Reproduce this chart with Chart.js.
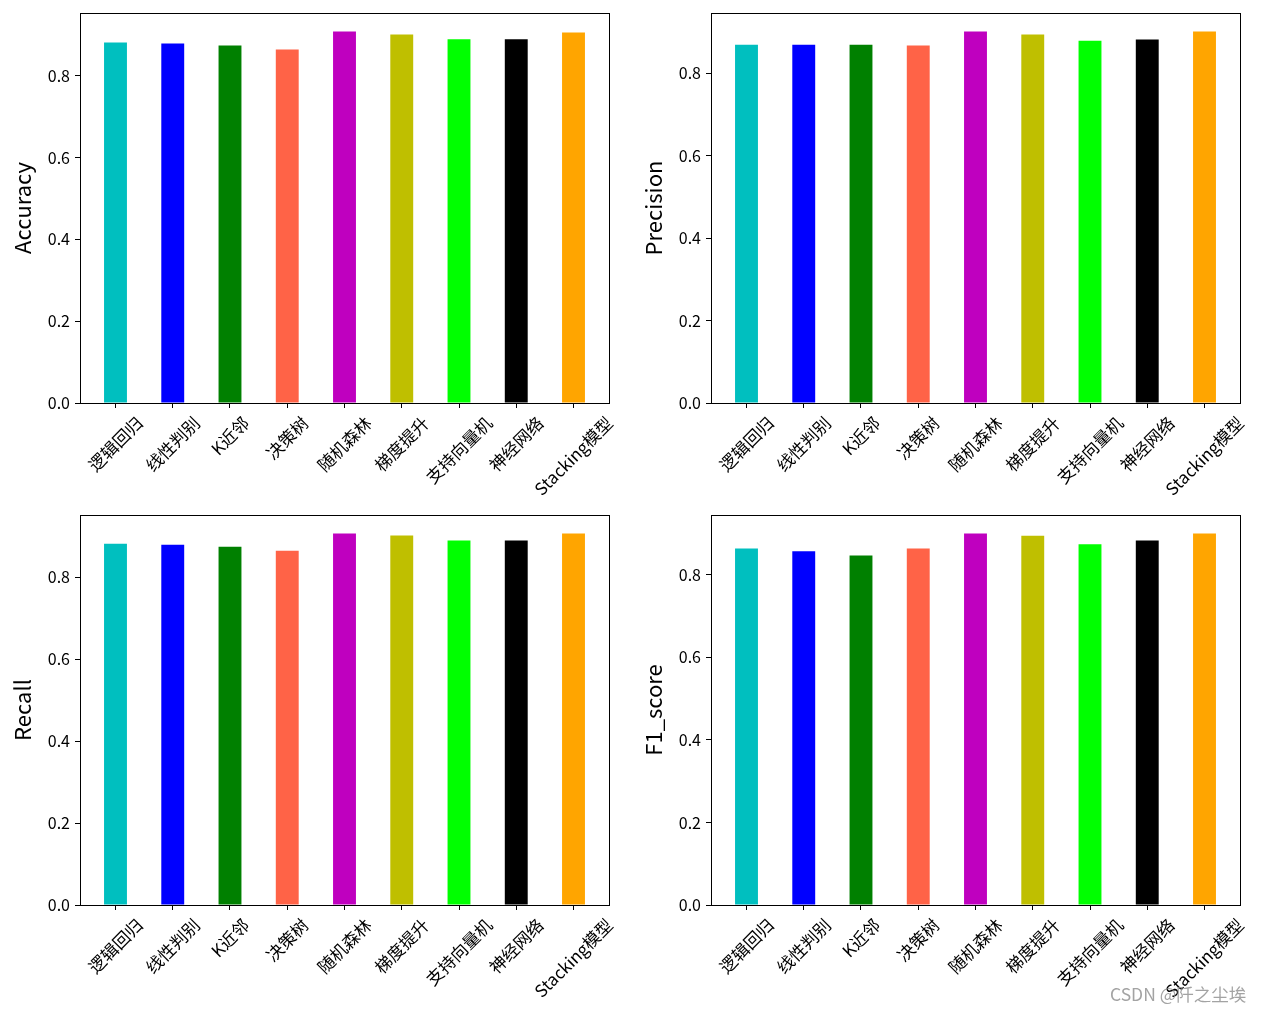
<!DOCTYPE html>
<html>
<head>
<meta charset="utf-8">
<script src="https://cdn.jsdelivr.net/npm/chart.js@4.4.1/dist/chart.umd.min.js"></script>
<style>
	body { margin: 0; background: #fff; }
	#page { position: relative; width: 1262px; height: 1011px; overflow: hidden; }
	.panel { position: absolute; width: 620px; height: 500px; }
	#mark { position: absolute; left: 1110px; top: 981px; font: 17.5px "Noto Sans CJK SC", sans-serif; color: rgba(140, 140, 140, 0.8); }
</style>
</head>
<body>
<div id="page">
	<canvas class="panel" id="acc" width="620" height="500" style="left:0;top:0"></canvas>
	<canvas class="panel" id="pre" width="620" height="500" style="left:631px;top:0"></canvas>
	<canvas class="panel" id="rec" width="620" height="500" style="left:0;top:502px"></canvas>
	<canvas class="panel" id="f1" width="620" height="500" style="left:631px;top:502px"></canvas>
	<div id="mark">CSDN @阡之尘埃</div>
</div>
<script>
const categories = ['逻辑回归', '线性判别', 'K近邻', '决策树', '随机森林', '梯度提升', '支持向量机', '神经网络', 'Stacking模型'];
const barColors = ['#00bfbf', '#0000ff', '#008000', '#ff6347', '#bf00bf', '#bfbf00', '#00ff00', '#000000', '#ffa500'];

const accuracy = [0.881, 0.879, 0.874, 0.864, 0.908, 0.901, 0.889, 0.889, 0.906];
const precision = [0.869, 0.869, 0.869, 0.867, 0.901, 0.894, 0.879, 0.882, 0.901];
const recall = [0.881, 0.879, 0.874, 0.864, 0.906, 0.901, 0.889, 0.889, 0.906];
const f1Score = [0.864, 0.857, 0.847, 0.864, 0.900, 0.895, 0.874, 0.883, 0.900];

const yTicks = [0, 0.2, 0.4, 0.6, 0.8];

const FONT = '"Noto Sans CJK SC", sans-serif';

// top and right spines, matplotlib style box
const framePlugin = {
	id: 'frame',
	afterDraw (chart) {
		const { ctx, chartArea: a } = chart;
		ctx.save();
		ctx.strokeStyle = '#000';
		ctx.lineWidth = 1;
		ctx.strokeRect(Math.round(a.left) + 0.5, Math.round(a.top) + 0.5, Math.round(a.right - a.left), Math.round(a.bottom - a.top));
		ctx.restore();
	}
};

// rotated labels centred under each tick (like rotation=45 in pyplot)
const xLabelPlugin = {
	id: 'xlabels',
	afterDraw (chart) {
		const ctx = chart.ctx;
		const xs = chart.scales.x;
		const size = 17;
		ctx.save();
		ctx.font = `${size}px ${FONT}`;
		ctx.fillStyle = '#000';
		ctx.textAlign = 'center';
		ctx.textBaseline = 'middle';
		categories.forEach((lab, i) => {
			const px = xs.getPixelForValue(i);
			const w = ctx.measureText(lab).width;
			const box = (w + size) * Math.SQRT1_2;
			const cy = xs.top + 11 + box / 2;
			ctx.save();
			ctx.translate(px, cy);
			ctx.rotate(-Math.PI / 4);
			ctx.fillText(lab, 0, 0);
			ctx.restore();
		});
		ctx.restore();
	}
};

function makeChart (id, title, values) {
	const ctx = document.getElementById(id);
	return new Chart(ctx, {
		type: 'bar',
		data: {
			datasets: [{
				data: values.map((v, i) => ({ x: i, y: v })),
				backgroundColor: barColors,
				borderWidth: 0,
				categoryPercentage: 1,
				barPercentage: 0.4
			}]
		},
		options: {
			responsive: false,
			animation: false,
			layout: { padding: { left: 0, top: 13, right: 11, bottom: 0 } },
			plugins: { legend: { display: false }, tooltip: { enabled: false } },
			scales: {
				x: {
					type: 'linear',
					offset: false,
					min: -0.62,
					max: categories.length - 1 + 0.62,
					afterBuildTicks: (scale) => { scale.ticks = categories.map((c, i) => ({ value: i })); },
					afterFit: (scale) => { scale.height = 97; scale.paddingLeft = 0; scale.paddingRight = 0; },
					ticks: { display: false },
					grid: { offset: false, drawOnChartArea: false, drawTicks: true, tickLength: 5, tickColor: '#000', tickWidth: 1 },
					border: { display: true, color: '#000', width: 1 }
				},
				y: {
					min: 0,
					max: Math.max(...values) * 1.05,
					afterBuildTicks: (scale) => { scale.ticks = yTicks.map((v) => ({ value: v })); },
					afterFit: (scale) => { scale.width = 80; scale.paddingTop = 0; scale.paddingBottom = 0; },
					ticks: {
						color: '#000',
						padding: 5,
						font: { family: FONT, size: 16 },
						callback: (v) => v.toFixed(1)
					},
					grid: { drawOnChartArea: false, drawTicks: true, tickLength: 5, tickColor: '#000', tickWidth: 1 },
					border: { display: true, color: '#000', width: 1 },
					title: {
						display: true,
						text: title,
						color: '#000',
						font: { family: FONT, size: 22 },
						padding: { top: 9, bottom: 0 }
					}
				}
			}
		},
		plugins: [framePlugin, xLabelPlugin]
	});
}

makeChart('acc', 'Accuracy', accuracy);
makeChart('pre', 'Precision', precision);
makeChart('rec', 'Recall', recall);
makeChart('f1', 'F1_score', f1Score);
</script>
</body>
</html>
